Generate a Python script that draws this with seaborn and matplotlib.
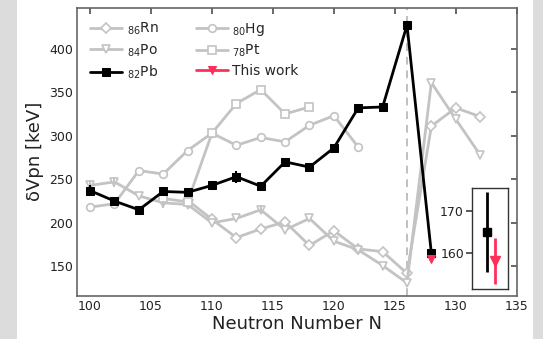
import numpy as np
import pandas as pd
import matplotlib
matplotlib.use("Agg")
import matplotlib.pyplot as plt
import seaborn as sns

# ---- data ----
rn_N = [108, 110, 112, 114, 116, 118, 120, 122, 124, 126, 128, 130, 132]
rn_V = [226, 204, 183, 193, 201, 174, 191, 170, 167, 142, 311, 332, 322]

po_N = [100, 102, 104, 106, 108, 110, 112, 114, 116, 118, 120, 122, 124, 126, 128, 130, 132]
po_V = [243, 247, 231, 223, 221, 200, 205, 215, 192, 205, 179, 169, 151, 131, 361, 319, 278]
po_err = [6, 6, 0, 6, 5, 0, 0, 5, 0, 0, 0, 0, 0, 0, 0, 0, 0]

hg_N = [100, 102, 104, 106, 108, 110, 112, 114, 116, 118, 120, 122]
hg_V = [218, 222, 260, 256, 283, 303, 289, 298, 293, 312, 323, 287]

pt_N = [106, 108, 110, 112, 114, 116, 118]
pt_V = [228, 224, 303, 337, 353, 325, 333]

pb_N = [100, 102, 104, 106, 108, 110, 112, 114, 116, 118, 120, 122, 124, 126, 128]
pb_V = [237, 225, 215, 236, 235, 243, 253, 242, 270, 264, 286, 332, 333, 427, 165]
pb_err = [6, 5, 4, 5, 5, 5, 7, 5, 0, 0, 0, 0, 0, 0, 0]

tw_N = [128]
tw_V = [158.5]

inset_pb = 165.0
inset_pb_err = 9.3
inset_tw = 158.2
inset_tw_err = 5.4

xticks = [100, 105, 110, 115, 120, 125, 130, 135]
yticks = [150, 200, 250, 300, 350, 400]

GREY = "#c3c3c3"
RED = "#ff2f5b"

sns.set_theme(style="white")
plt.rcParams['font.family'] = ['DejaVu Sans']

fig = plt.figure(figsize=(5.43, 3.39), dpi=100)
fig.patch.set_facecolor("#dcdcdc")
fig.patches.append(matplotlib.patches.Rectangle((17/543, 0), (533-17)/543, 1,
                   transform=fig.transFigure, facecolor="white", edgecolor="none", zorder=-10))

ax = fig.add_axes([77.3/543, 43/339, 440/543, 288.3/339])
ax.set_facecolor("white")

ax.axvline(126, color="#c0c0c0", ls=(0, (4, 3)), lw=1.4, zorder=1)

def grey_series(N, V, marker, label, ms=5):
    df = pd.DataFrame({"N": N, "V": V})
    sns.lineplot(data=df, x="N", y="V", ax=ax, color=GREY, lw=2, marker=marker,
                 markersize=ms, markerfacecolor="white", markeredgecolor=GREY,
                 markeredgewidth=1.2, label=label, zorder=2)

grey_series(rn_N, rn_V, "D", r"$_{86}$Rn", ms=5)
grey_series(po_N, po_V, "v", r"$_{84}$Po", ms=5.5)
ax.errorbar(po_N, po_V, yerr=po_err, fmt="none", ecolor=GREY, elinewidth=1.5, zorder=2)

df_pb = pd.DataFrame({"N": pb_N, "V": pb_V})
sns.lineplot(data=df_pb, x="N", y="V", ax=ax, color="black", lw=2, marker="s",
             markersize=5.5, markerfacecolor="black", markeredgecolor="black",
             label=r"$_{82}$Pb", zorder=4)
ax.errorbar(pb_N, pb_V, yerr=pb_err, fmt="none", ecolor="black", elinewidth=1.5, zorder=4)

grey_series(hg_N, hg_V, "o", r"$_{80}$Hg", ms=5.5)
grey_series(pt_N, pt_V, "s", r"$_{78}$Pt", ms=5.5)

df_tw = pd.DataFrame({"N": tw_N, "V": tw_V})
sns.lineplot(data=df_tw, x="N", y="V", ax=ax, color=RED, lw=2, marker="v",
             markersize=6, markerfacecolor=RED, markeredgecolor=RED,
             label="This work", zorder=5)

ax.set_xlim(98.95, 135.05)
ax.set_ylim(116, 447)
ax.set_xticks(xticks)
ax.set_yticks(yticks)
ax.tick_params(direction="in", top=True, right=True, labelsize=9, length=4,
               color="#555555", labelcolor="#222222", pad=3)
ax.tick_params(axis="y", labelright=False)
for s in ax.spines.values():
    s.set_color("#666666")
    s.set_linewidth(1.2)
ax.set_xlabel("Neutron Number N", fontsize=13, color="#222222", labelpad=1)
ax.set_ylabel("δVpn [keV]", fontsize=13, color="#222222", labelpad=4)

h, l = ax.get_legend_handles_labels()
order = [r"$_{86}$Rn", r"$_{84}$Po", r"$_{82}$Pb", r"$_{80}$Hg", r"$_{78}$Pt", "This work"]
hd = dict(zip(l, h))
ax.legend([hd[o] for o in order], order, ncol=2, frameon=False, loc="upper left",
          fontsize=10, handlelength=2.3, handletextpad=0.3, columnspacing=2.7,
          labelspacing=0.35, borderaxespad=0.55, bbox_to_anchor=(0.0, 1.0))

# ---- inset ----
ins = fig.add_axes([472.3/543, (339-289)/339, 36/543, 101.3/339])
ins.set_facecolor("white")
ins.errorbar([0.4], [inset_pb], yerr=[inset_pb_err], fmt="s", color="black",
             ms=6, elinewidth=2)
ins.errorbar([0.63], [inset_tw], yerr=[inset_tw_err], fmt="v", color=RED,
             ms=7, elinewidth=2)
ins.set_xlim(0, 1)
ins.set_ylim(151.6, 175.4)
ins.set_xticks([])
ins.set_yticks([160, 170])
ins.tick_params(axis="y", direction="out", length=4, labelsize=9, color="#444444",
                labelcolor="#222222", pad=2, left=True)
for s in ins.spines.values():
    s.set_color("#333333")
    s.set_linewidth(1.0)

fig.savefig("out.png", dpi=100, facecolor=fig.get_facecolor())
